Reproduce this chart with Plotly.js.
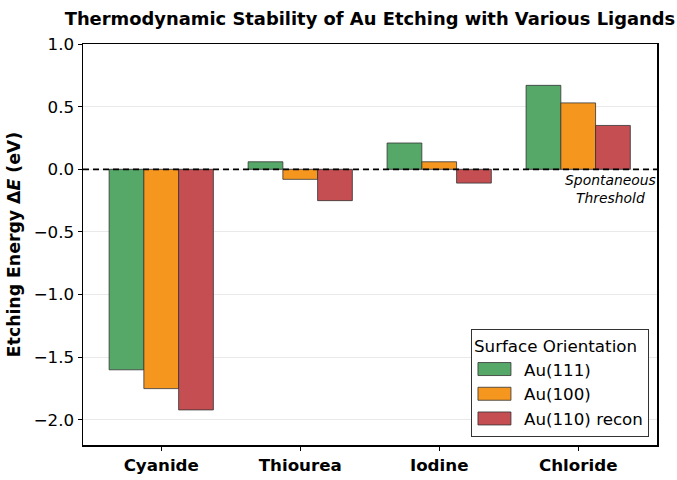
<!DOCTYPE html>
<html>
<head>
<meta charset="utf-8">
<script src="https://cdn.plot.ly/plotly-3.0.1.min.js"></script>
<style>
  html, body { margin: 0; padding: 0; background: #ffffff; }
  #chart { width: 677px; height: 480px; }
</style>
</head>
<body>
<div id="chart"></div>
<script>
// Etching energies (eV) per ligand for each gold surface orientation
const ligands = ["Cyanide", "Thiourea", "Iodine", "Chloride"];
const au111 = [-1.60, 0.06, 0.21, 0.67];
const au100 = [-1.75, -0.08, 0.06, 0.53];
const au110recon = [-1.92, -0.25, -0.11, 0.35];
const seriesNames = ["Au(111)", "Au(100)", "Au(110) recon"];
const seriesColors = ["#55a868", "#f5961e", "#c44e52"];
const yTicks = [1.0, 0.5, 0.0, -0.5, -1.0, -1.5, -2.0];

const baseFont = "DejaVu Sans, sans-serif";

const traces = [au111, au100, au110recon].map((vals, i) => ({
  type: "bar",
  name: seriesNames[i],
  x: ligands,
  y: vals,
  marker: { color: seriesColors[i], line: { color: "#333333", width: 0.8 } },
  hoverinfo: "x+y+name"
}));

const layout = {
  width: 677,
  height: 480,
  margin: { l: 83, r: 20, t: 44, b: 35 },
  paper_bgcolor: "#ffffff",
  plot_bgcolor: "#ffffff",
  font: { family: baseFont, size: 16.7, color: "#000000" },
  title: {
    text: "<b>Thermodynamic Stability of Au Etching with Various Ligands</b>",
    font: { family: baseFont, size: 17.9, color: "#000000" },
    x: 0.5465, xanchor: "center", y: 0.962, yanchor: "middle"
  },
  barmode: "group",
  bargap: 0.25,
  bargroupgap: 0,
  xaxis: {
    range: [-0.563, 3.567],
    showline: true, linecolor: "#000000", linewidth: 1.5, mirror: true,
    ticks: "outside", ticklen: 4, tickwidth: 1, tickcolor: "#000000",
    tickfont: { family: baseFont, size: 16.7, color: "#000000", weight: "bold" },
    showgrid: false, zeroline: false, fixedrange: true
  },
  yaxis: {
    range: [-2.2, 1.0],
    tickvals: yTicks,
    tickformat: ".1f",
    showline: true, linecolor: "#000000", linewidth: 1.5, mirror: true,
    ticks: "outside", ticklen: 4, tickwidth: 1, tickcolor: "#000000",
    tickfont: { family: baseFont, size: 16.7, color: "#000000" },
    showgrid: true, gridcolor: "#e3e3e3", gridwidth: 0.8,
    zeroline: false, fixedrange: true,
    title: {
      text: "<b>Etching Energy Δ<i>E</i> (eV)</b>",
      font: { family: baseFont, size: 17.3, color: "#000000" },
      standoff: 8
    }
  },
  shapes: [{
    type: "line", xref: "paper", yref: "y",
    x0: 0, x1: 1, y0: 0, y1: 0,
    line: { color: "#000000", width: 1.8, dash: "6px,4px" },
    layer: "above"
  }],
  annotations: [{
    text: "<i>Spontaneous<br>Threshold</i>",
    xref: "paper", yref: "y", x: 0.919, y: -0.005,
    xanchor: "center", yanchor: "top",
    showarrow: false, align: "center",
    font: { family: baseFont, size: 13.9, color: "#000000" }
  }],
  legend: {
    title: { text: "Surface Orientation", font: { family: baseFont, size: 16.7, color: "#000000" } },
    x: 0.986, xanchor: "right", y: 0.02, yanchor: "bottom",
    bgcolor: "#ffffff", bordercolor: "#333333", borderwidth: 1,
    font: { family: baseFont, size: 16.7, color: "#000000" },
    itemwidth: 42,
    tracegroupgap: 2
  },
  showlegend: true
};

// Widen the legend swatches into flat rectangles
function widenLegendSwatches(gd) {
  gd.querySelectorAll(".legend .legendpoints path").forEach(p => {
    p.setAttribute("d", "M-20,6.5H13V-6.5H-20Z");
  });
}

const gd = document.getElementById("chart");
Plotly.newPlot(gd, traces, layout, { displayModeBar: false, responsive: false, staticPlot: true })
  .then(() => widenLegendSwatches(gd));
</script>
</body>
</html>
